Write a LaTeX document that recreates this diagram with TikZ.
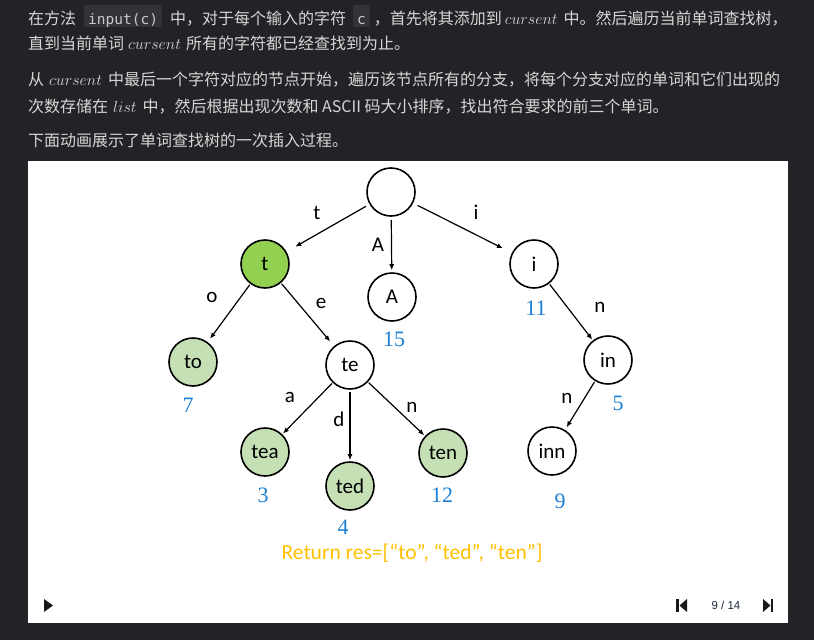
\documentclass[tikz,border=0pt]{standalone}
\usepackage{fix-cm}
\usepackage[no-math]{fontspec}
\setmainfont{Carlito}
\newfontfamily\cjk{Noto Sans CJK SC}
\newfontfamily\monof{DejaVu Sans Mono}
\newfontfamily\numf{Liberation Serif}
\newfontfamily\uif{Liberation Sans}
\usetikzlibrary{arrows.meta}
\definecolor{pagebg}{RGB}{34,35,38}
\definecolor{txtc}{RGB}{214,214,214}
\definecolor{codebg}{RGB}{50,51,55}
\definecolor{codetxt}{RGB}{200,200,200}
\definecolor{numblue}{RGB}{30,128,212}
\definecolor{retcol}{RGB}{255,192,0}
\definecolor{brightgreen}{RGB}{146,208,80}
\definecolor{palegreen}{RGB}{197,224,180}
\definecolor{ctrl}{RGB}{25,25,25}
\definecolor{ctrltxt}{RGB}{30,40,60}
\newcommand{\codebx}[1]{{\setlength{\fboxsep}{0pt}\colorbox{codebg}{\rule[-3pt]{0pt}{22pt}\hspace{4pt}{\monof\fontsize{14.5}{16}\selectfont\color{codetxt}#1}\hspace{4pt}}}}
\begin{document}
\begin{tikzpicture}[x=1pt,y=-1pt,
  txtline/.style={anchor=base west, inner sep=0pt, text=txtc, font=\cjk\fontsize{16}{20}\selectfont},
  trienode/.style={circle, draw=black, line width=1.6pt, minimum size=48pt, inner sep=0pt, fill=white, font=\fontsize{21}{25}\selectfont},
  hot/.style={fill=brightgreen},
  word/.style={fill=palegreen},
  edgelbl/.style={inner sep=0pt, font=\fontsize{21}{25}\selectfont},
  cnt/.style={inner sep=0pt, text=numblue, font=\numf\fontsize{22}{26}\selectfont},
  link/.style={line width=1.2pt, -{Latex[length=6pt,width=5pt]}}]
\useasboundingbox (0,0) rectangle (814,640);
\fill[pagebg] (0,0) rectangle (814,640);
% text above
\node[txtline] (l1) at (28,24) {在方法\hspace{8pt}\codebx{input(c)}\hspace{8pt}中，对于每个输入的字符\hspace{7pt}\codebx{c}\hspace{4pt}，首先将其添加到\hspace{3pt}$cursent$\hspace{6pt}中。然后遍历当前单词查找树，};
\node[txtline] (l2) at (28,49) {直到当前单词\hspace{4pt}$cursent$\hspace{5pt}所有的字符都已经查找到为止。};
\node[txtline] (l3) at (28,85) {从\hspace{5pt}$cursent$\hspace{6pt}中最后一个字符对应的节点开始，遍历该节点所有的分支，将每个分支对应的单词和它们出现的};
\node[txtline] (l4) at (28,112) {次数存储在\hspace{5pt}$list$\hspace{6pt}中，然后根据出现次数和 ASCII 码大小排序，找出符合要求的前三个单词。};
\node[txtline] (l5) at (28,146) {下面动画展示了单词查找树的一次插入过程。};
% panel
\fill[white] (28,161) rectangle (788,623);
% trie nodes
\node[trienode] (root) at (391,192) {};
\node[trienode,hot] (t) at (265,264) {t};
\node[trienode] (A) at (392,297) {A};
\node[trienode] (i) at (534,264) {i};
\node[trienode,word] (to) at (193,362) {to};
\node[trienode] (te) at (350,365) {te};
\node[trienode] (in) at (608,360) {in};
\node[trienode,word] (tea) at (265,452) {tea};
\node[trienode,word] (ted) at (350,486) {ted};
\node[trienode,word] (ten) at (443,453) {ten};
\node[trienode] (inn) at (552,451) {inn};
% connectors
\draw[link, shorten <=4pt, shorten >=10pt] (root) -- (t);
\draw[link, shorten <=3pt, shorten >=2pt] (root) -- (A);
\draw[link, shorten <=5pt, shorten >=10pt] (root) -- (i);
\draw[link, shorten <=1pt, shorten >=4pt] (t) -- (to);
\draw[link, shorten <=1pt, shorten >=6pt] (t) -- (te);
\draw[link, shorten <=1pt, shorten >=1pt] (i) -- (in);
\draw[link, shorten <=1pt, shorten >=1pt] (te) -- (tea);
\draw[link, shorten <=2pt, shorten >=1pt] (te) -- (ted);
\draw[link, shorten <=1pt, shorten >=1pt] (te) -- (ten);
\draw[link, shorten <=1pt, shorten >=3pt] (in) -- (inn);
% edge labels
\node[edgelbl] (lt) at (317,213) {t};
\node[edgelbl] (lA) at (378,245) {A};
\node[edgelbl] (li) at (476,212) {i};
\node[edgelbl] (lo) at (212,297) {o};
\node[edgelbl] (le) at (321,303) {e};
\node[edgelbl] (ln1) at (600,307) {n};
\node[edgelbl] (la) at (290,397) {a};
\node[edgelbl] (ld) at (339,419) {d};
\node[edgelbl] (ln2) at (412,407) {n};
\node[edgelbl] (ln3) at (567,398) {n};
% counts
\node[cnt] (c15) at (394,339) {15};
\node[cnt] (c11) at (536,308) {11};
\node[cnt] (c7) at (188,405) {7};
\node[cnt] (c3) at (263,495) {3};
\node[cnt] (c12) at (442,495) {12};
\node[cnt] (c9) at (560,501) {9};
\node[cnt] (c4) at (343,527) {4};
\node[cnt] (c5) at (618,403) {5};
% result
\node[inner sep=0pt, text=retcol, font=\fontsize{21.5}{26}\selectfont] (ret) at (412,553) {Return res=[“to”, “ted”, “ten”]};
% controls
\fill[ctrl] (44,599) -- (44,612) -- (53,605.5) -- cycle;
\fill[ctrl] (676,599) rectangle (678.5,612);
\fill[ctrl] (687,599) -- (687,612) -- (679.5,605.5) -- cycle;
\fill[ctrl] (763,599) -- (763,612) -- (770.5,605.5) -- cycle;
\fill[ctrl] (770.5,599) rectangle (773,612);
\node[inner sep=0pt, text=ctrltxt, font=\uif\fontsize{11.5}{13}\selectfont] (counter) at (726,605.5) {9 / 14};
\end{tikzpicture}
\end{document}
